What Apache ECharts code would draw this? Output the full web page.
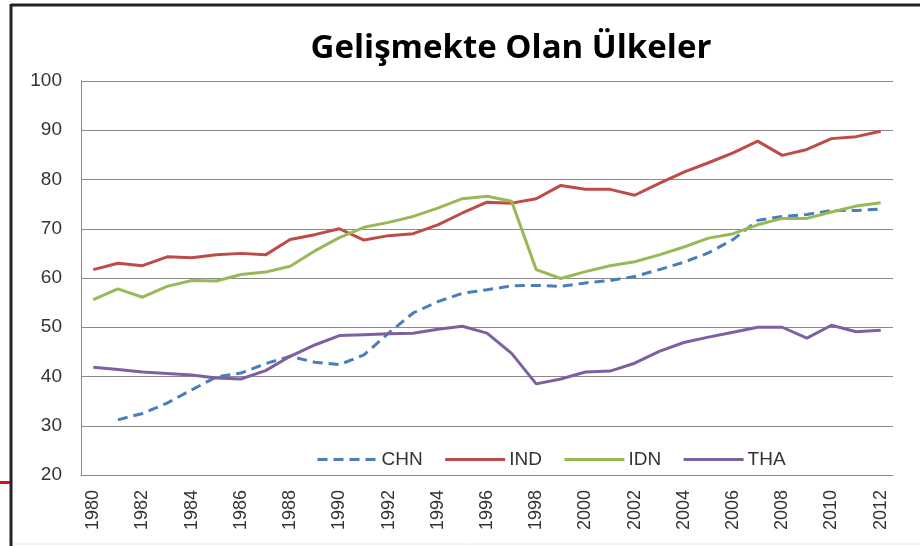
<!DOCTYPE html>
<html>
<head>
<meta charset="utf-8">
<script src="https://cdn.jsdelivr.net/npm/echarts@6/dist/echarts.min.js"></script>
<style>
  html, body { margin: 0; padding: 0; background: #fff; }
  #main { width: 920px; height: 546px; }
</style>
</head>
<body>
<div id="main"></div>
<script>
// yillar 1980 - 2012
const years = []
for (let y = 1980; y <= 2012; y++) years.push(String(y))

const chn = [null, 31.2, 32.5, 34.6, 37.3, 39.9, 40.7, 42.6, 44.1, 42.9, 42.4,
  44.4, 48.8, 52.9, 55.2, 56.9, 57.6, 58.4, 58.5, 58.3, 59.0,
  59.5, 60.3, 61.7, 63.2, 65.1, 67.8, 71.7, 72.5, 72.9, 73.7, 73.7, 74.0]
const ind = [61.7, 63.0, 62.5, 64.3, 64.1, 64.7, 65.0, 64.7, 67.8, 68.8, 70.0,
  67.7, 68.6, 69.0, 70.8, 73.2, 75.4, 75.2, 76.1, 78.8, 78.0,
  78.0, 76.8, 79.2, 81.5, 83.4, 85.4, 87.8, 84.9, 86.1, 88.3, 88.7, 89.8]
const idn = [55.6, 57.8, 56.1, 58.3, 59.5, 59.4, 60.7, 61.2, 62.4, 65.5, 68.2,
  70.3, 71.3, 72.5, 74.2, 76.1, 76.6, 75.6, 61.7, 59.9, 61.3,
  62.5, 63.3, 64.7, 66.3, 68.1, 69.0, 70.8, 72.1, 72.1, 73.4, 74.6, 75.3]
const tha = [41.9, 41.4, 40.9, 40.6, 40.3, 39.7, 39.5, 41.2, 44.1, 46.4, 48.3,
  48.5, 48.7, 48.8, 49.6, 50.2, 48.8, 44.7, 38.5, 39.5, 40.9,
  41.1, 42.7, 45.1, 46.9, 48.0, 49.0, 50.0, 50.0, 47.8, 50.4, 49.1, 49.4]

const chart = echarts.init(document.getElementById('main'))

function line(name, data, color, dashed) {
  return {
    name: name,
    type: 'line',
    data: data,
    symbol: 'none',
    connectNulls: false,
    lineStyle: { color: color, width: 3, type: dashed ? [10, 6] : 'solid' },
    itemStyle: { color: color },
  }
}

const option = {
  animation: false,
  backgroundColor: '#fff',
  title: {
    text: 'Gelişmekte Olan Ülkeler',
    left: 506,
    textAlign: 'center',
    top: 27,
    textStyle: {
      fontFamily: 'Open Sans',
      fontWeight: 'bold',
      fontSize: 33,
      color: '#000',
    },
  },
  legend: {
    left: 311,
    top: 445,
    itemWidth: 60,
    itemHeight: 16,
    itemGap: 21,
    itemStyle: { opacity: 0 },
    lineStyle: { width: 3 },
    data: ['CHN', 'IND', 'IDN', 'THA'],
    textStyle: { fontFamily: 'Liberation Sans', fontSize: 19, color: '#333', padding: [0, 0, 0, -1] },
  },
  grid: { left: 81, right: 27, top: 81, bottom: 71, containLabel: false },
  xAxis: {
    type: 'category',
    data: years,
    boundaryGap: true,
    axisTick: { show: false },
    axisLine: { lineStyle: { color: '#8a8a8a', width: 1 } },
    axisLabel: {
      interval: 1,
      rotate: 90,
      margin: 15,
      fontFamily: 'Liberation Sans',
      fontSize: 18,
      color: '#333',
    },
  },
  yAxis: {
    type: 'value',
    min: 20,
    max: 100,
    interval: 10,
    axisTick: { show: false },
    axisLine: { show: true, lineStyle: { color: '#8a8a8a', width: 1 } },
    splitLine: { lineStyle: { color: '#8a8a8a', width: 1 } },
    axisLabel: {
      margin: 19,
      fontFamily: 'Liberation Sans',
      fontSize: 19,
      color: '#333',
    },
  },
  series: [
    line('CHN', chn, '#4a7ebb', true),
    line('IND', ind, '#be4b48', false),
    line('IDN', idn, '#98b954', false),
    line('THA', tha, '#7d60a0', false),
  ],
  graphic: [
    { type: 'line', shape: { x1: 11, y1: 5, x2: 920, y2: 5 }, style: { stroke: '#222', lineWidth: 3 } },
    { type: 'line', shape: { x1: 11, y1: 4, x2: 11, y2: 546 }, style: { stroke: '#222', lineWidth: 3 } },
    { type: 'line', shape: { x1: 0, y1: 482.5, x2: 10, y2: 482.5 }, style: { stroke: '#e01010', lineWidth: 3 } },
    { type: 'line', shape: { x1: 13, y1: 544, x2: 920, y2: 544 }, style: { stroke: '#e4e4e4', lineWidth: 1 } },
  ],
}

chart.setOption(option)
</script>
</body>
</html>
